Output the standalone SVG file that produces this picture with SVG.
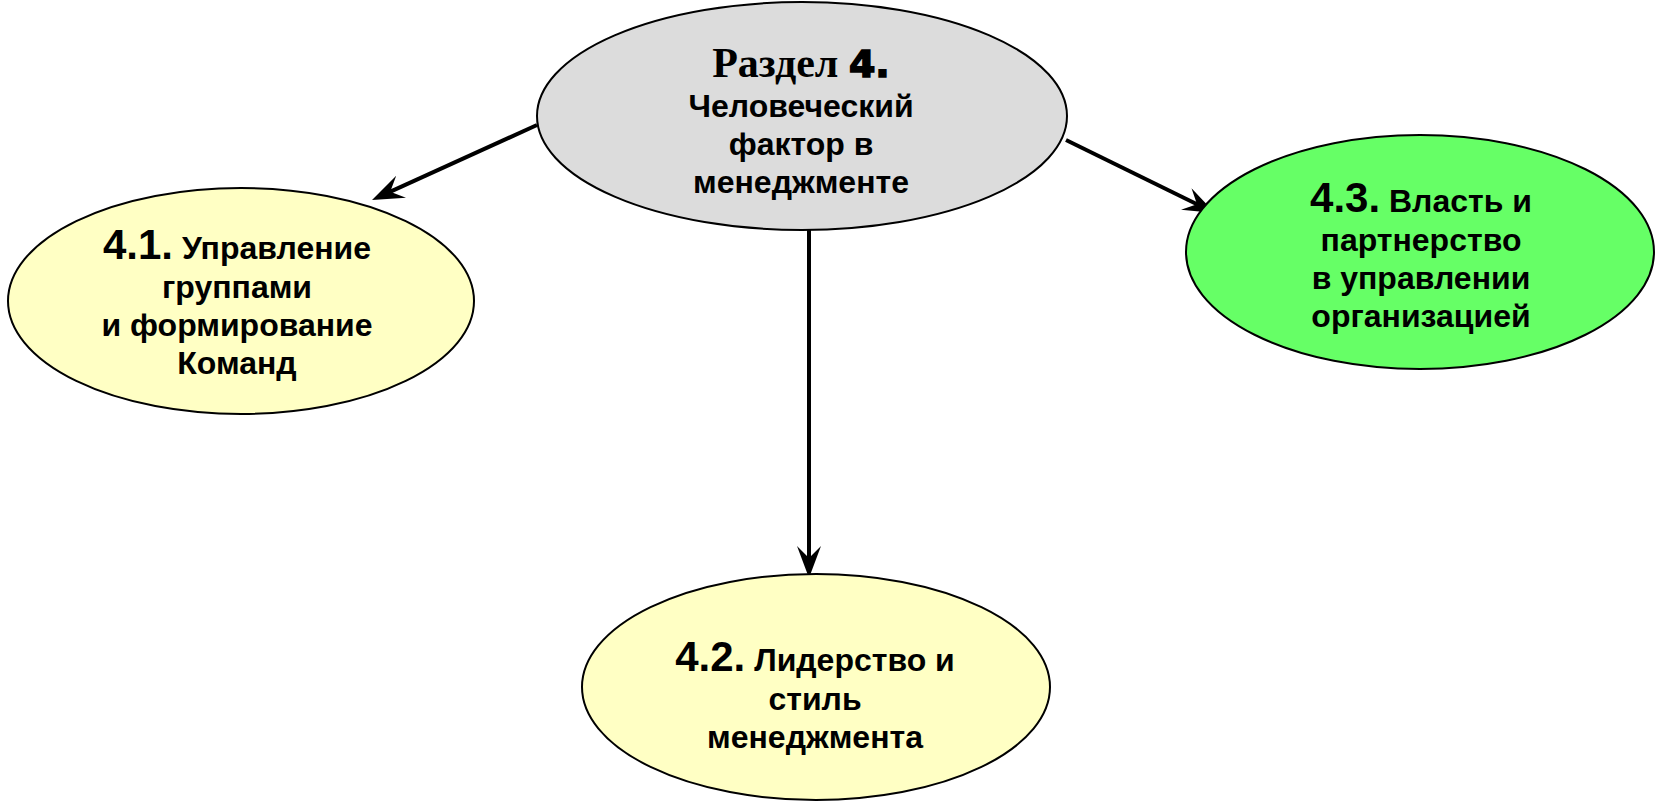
<svg xmlns="http://www.w3.org/2000/svg" width="1657" height="806" viewBox="0 0 1657 806">
<style>
.node{stroke:#000;stroke-width:2}
.gray{fill:#DCDCDC}
.yel{fill:#FFFFC4}
.grn{fill:#66FF66}
.t{font-family:"Liberation Sans",Arial,sans-serif;font-weight:bold;font-size:32px;fill:#000;text-anchor:middle}
.num{font-size:42px}
.ser{font-family:"Liberation Serif","Times New Roman",serif;font-weight:bold;font-size:42px}
.blk{font-family:"DejaVu Sans",sans-serif;font-weight:900;font-size:38px;stroke:#000;stroke-width:1.6}
.c{stroke:#000;stroke-width:4;fill:none;marker-end:url(#ah)}
</style>
<defs>
<marker id="ah" viewBox="0 0 32 26" refX="16" refY="13" markerWidth="32" markerHeight="26" markerUnits="userSpaceOnUse" orient="auto">
<path d="M0,1 L32,13 L0,25 L12,13 Z" fill="#000"/>
</marker>
</defs>
<rect width="1657" height="806" fill="#fff"/>
<g id="connectors">
<line class="c" x1="537" y1="125" x2="386.6" y2="193.4"/>
<line class="c" x1="809" y1="230" x2="809" y2="562"/>
<line class="c" x1="1066" y1="140" x2="1200.6" y2="206"/>
</g>
<g id="node-main">
<ellipse class="node gray" cx="802" cy="116" rx="265" ry="114"/>
<text class="t" x="801" y="77"><tspan class="ser">Раздел </tspan><tspan class="blk">4.</tspan></text>
<text class="t" x="801" y="117">Человеческий</text>
<text class="t" x="801" y="155">фактор в</text>
<text class="t" x="801" y="193">менеджменте</text>
</g>
<g id="node-4-1">
<ellipse class="node yel" cx="241" cy="301" rx="233" ry="113"/>
<text class="t" x="237" y="259"><tspan class="num">4.1.</tspan> Управление</text>
<text class="t" x="237" y="298">группами</text>
<text class="t" x="237" y="336">и формирование</text>
<text class="t" x="237" y="374">Команд</text>
</g>
<g id="node-4-3">
<ellipse class="node grn" cx="1420" cy="252" rx="234" ry="117"/>
<text class="t" x="1421" y="212"><tspan class="num">4.3.</tspan> Власть и</text>
<text class="t" x="1421" y="251">партнерство</text>
<text class="t" x="1421" y="289">в управлении</text>
<text class="t" x="1421" y="327">организацией</text>
</g>
<g id="node-4-2">
<ellipse class="node yel" cx="816" cy="687" rx="234" ry="113"/>
<text class="t" x="815" y="671"><tspan class="num">4.2.</tspan> Лидерство и</text>
<text class="t" x="815" y="710">стиль</text>
<text class="t" x="815" y="748">менеджмента</text>
</g>
</svg>
